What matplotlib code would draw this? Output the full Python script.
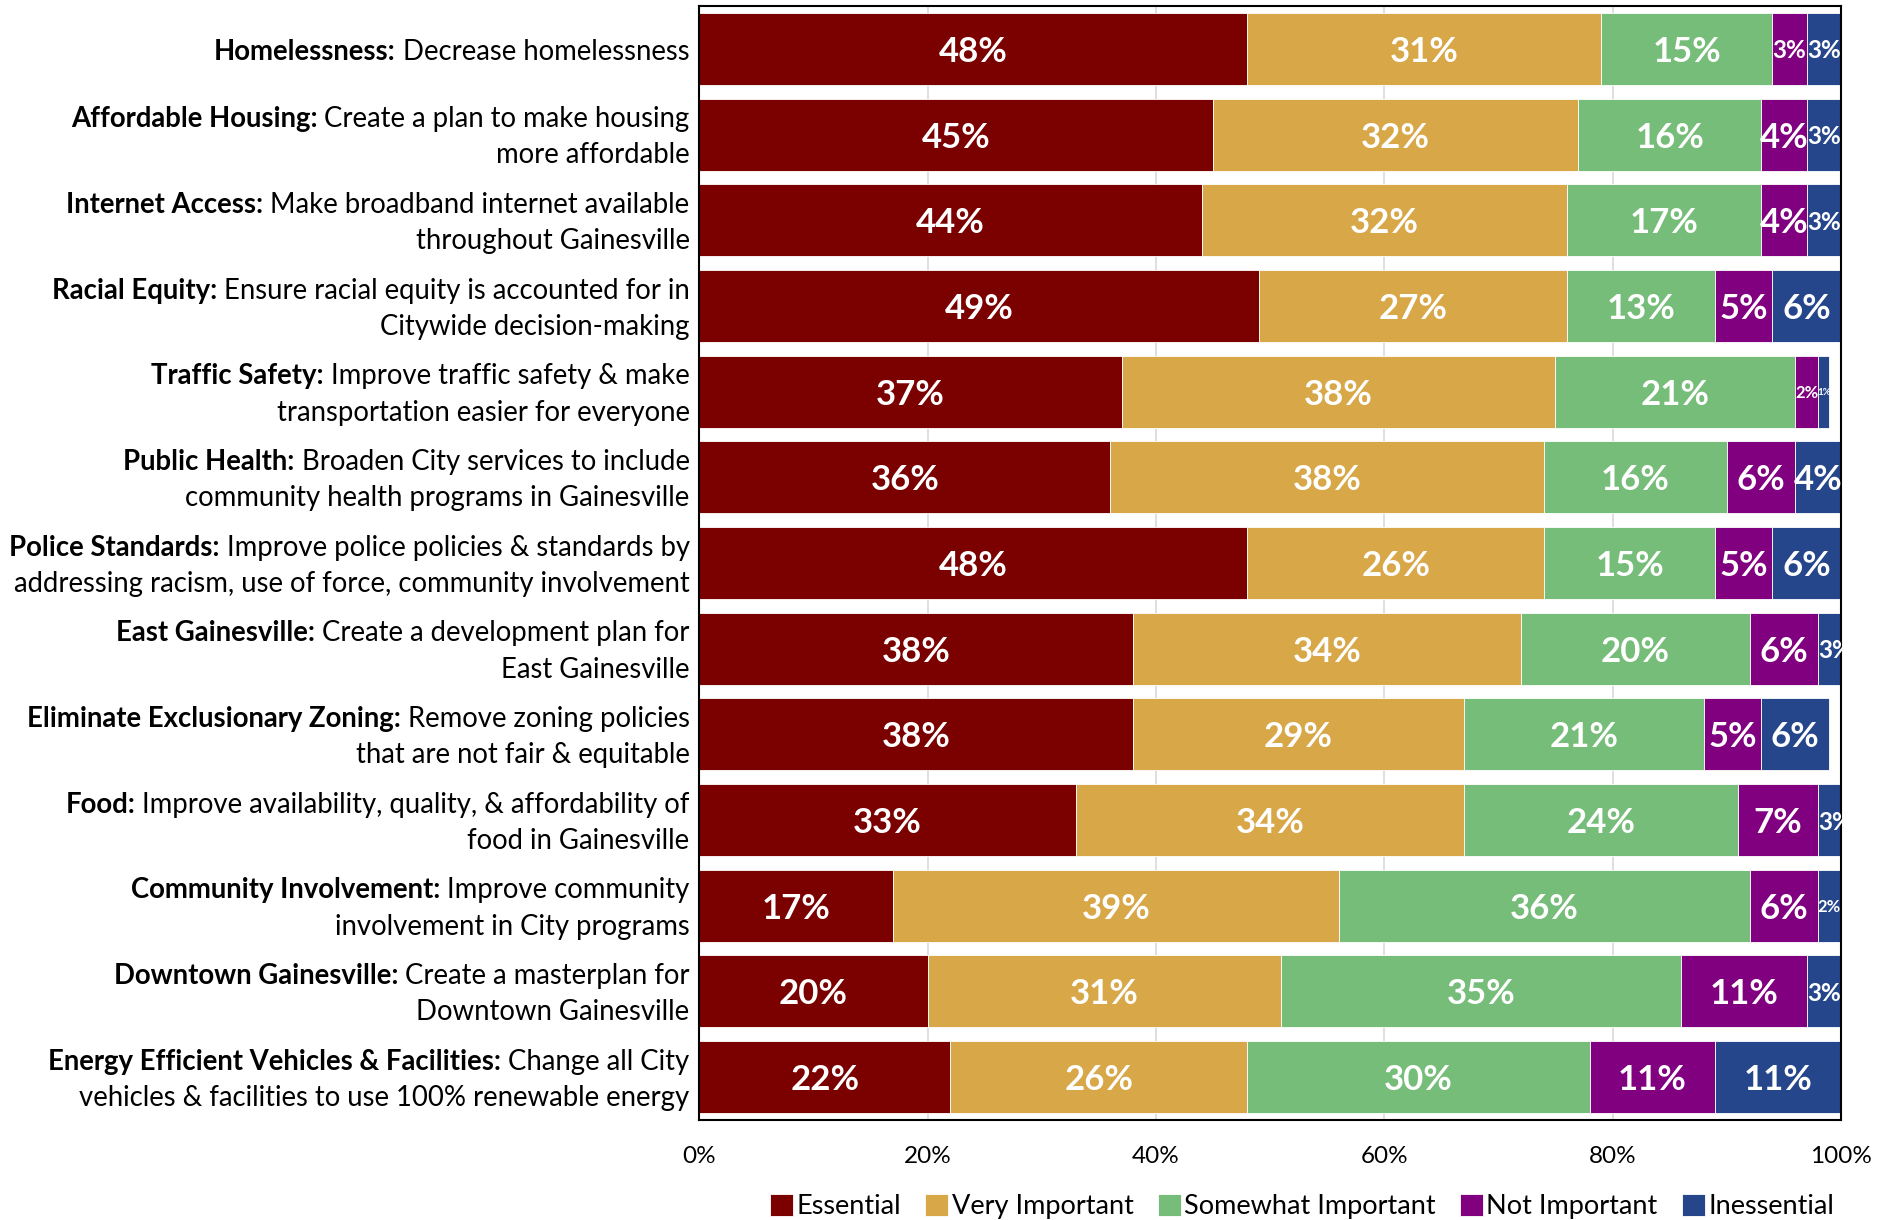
import matplotlib.pyplot as plt
import numpy as np
from matplotlib.offsetbox import TextArea, HPacker, AnnotationBbox

plt.rcParams['font.family'] = ['Lato', 'DejaVu Sans']

# Priorities: bold heading, rest of first line, second line
headings = ['Homelessness:', 'Affordable Housing:', 'Internet Access:', 'Racial Equity:',
            'Traffic Safety:', 'Public Health:', 'Police Standards:', 'East Gainesville:',
            'Eliminate Exclusionary Zoning:', 'Food:', 'Community Involvement:',
            'Downtown Gainesville:', 'Energy Efficient Vehicles & Facilities:']
first_lines = ['Decrease homelessness', 'Create a plan to make housing',
               'Make broadband internet available', 'Ensure racial equity is accounted for in',
               'Improve traffic safety & make', 'Broaden City services to include',
               'Improve police policies & standards by', 'Create a development plan for',
               'Remove zoning policies', 'Improve availability, quality, & affordability of',
               'Improve community', 'Create a masterplan for', 'Change all City']
second_lines = ['', 'more affordable', 'throughout Gainesville', 'Citywide decision-making',
                'transportation easier for everyone', 'community health programs in Gainesville',
                'addressing racism, use of force, community involvement', 'East Gainesville',
                'that are not fair & equitable', 'food in Gainesville',
                'involvement in City programs', 'Downtown Gainesville',
                'vehicles & facilities to use 100% renewable energy']

ratings = ['Essential', 'Very Important', 'Somewhat Important', 'Not Important', 'Inessential']
essential = [48, 45, 44, 49, 37, 36, 48, 38, 38, 33, 17, 20, 22]
very_important = [31, 32, 32, 27, 38, 38, 26, 34, 29, 34, 39, 31, 26]
somewhat_important = [15, 16, 17, 13, 21, 16, 15, 20, 21, 24, 36, 35, 30]
not_important = [3, 4, 4, 5, 2, 6, 5, 6, 5, 7, 6, 11, 11]
inessential = [3, 3, 3, 6, 1, 4, 6, 3, 6, 3, 2, 3, 11]

colors = ['#7B0000', '#D8A748', '#77BD7A', '#800080', '#26468C']

series = [essential, very_important, somewhat_important, not_important, inessential]
y = np.arange(len(headings))

fig = plt.figure(figsize=(18.9, 12.2), dpi=100)
ax = fig.add_axes([0.370, 0.082, 0.604, 0.913])

def label_size(v):
    # narrow segments get smaller labels
    if v >= 4:
        return 25
    if v == 3:
        return 17.5
    if v == 2:
        return 12
    return 7

left = np.zeros(len(headings))
for vals, name, col in zip(series, ratings, colors):
    vals = np.array(vals, dtype=float)
    ax.barh(y, vals, left=left, height=0.84, color=col, label=name,
            edgecolor='white', linewidth=0.6, zorder=2)
    for yi, (l, v) in enumerate(zip(left, vals)):
        ax.text(l + v / 2, yi, f'{int(v)}%', ha='center', va='center_baseline',
                color='white', fontweight='bold', fontsize=label_size(v), zorder=3)
    left += vals

ax.set_xlim(0, 100)
ax.set_ylim(len(headings) - 0.5, -0.5)
ax.set_xticks(np.arange(0, 101, 20))
ax.set_xticklabels([f'{t}%' for t in range(0, 101, 20)], fontsize=17.5)
ax.tick_params(axis='x', length=0, pad=19)
ax.set_yticks([])
ax.grid(axis='x', color='#d9d9d9', linewidth=1.2, zorder=0)
ax.set_axisbelow(True)
for s in ax.spines.values():
    s.set_color('black')
    s.set_linewidth(1.5)

# category labels with bold heading on the first line
ytrans = ax.get_yaxis_transform()
fs = 19.8
for i in range(len(headings)):
    two = second_lines[i] != ''
    dy = 11 if two else -2
    row = HPacker(children=[
        TextArea(headings[i], textprops=dict(fontweight='bold', fontsize=fs, color='black')),
        TextArea(' ' + first_lines[i], textprops=dict(fontsize=fs, color='black')),
    ], sep=0, pad=0, align='baseline')
    ab = AnnotationBbox(row, (0, i), xycoords=ytrans, xybox=(-7, dy),
                        boxcoords='offset points', box_alignment=(1, 0.5),
                        frameon=False, pad=0, annotation_clip=False)
    ax.add_artist(ab)
    if two:
        ax.annotate(second_lines[i], (0, i), xycoords=ytrans, xytext=(-7, -15),
                    textcoords='offset points', ha='right', va='center', fontsize=fs,
                    annotation_clip=False)

fig.legend(loc='center', bbox_to_anchor=(0.689, 0.011), ncol=5, frameon=False,
           fontsize=19.5, handlelength=0.85, handleheight=0.85, handletextpad=0.12,
           columnspacing=0.9, borderaxespad=0)

fig.savefig('out.png', dpi=100)
